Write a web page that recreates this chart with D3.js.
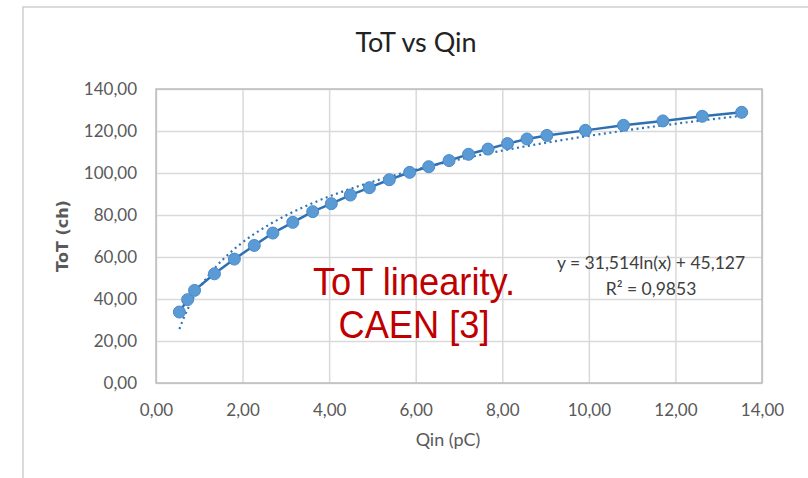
<!DOCTYPE html>
<html>
<head>
<meta charset="utf-8">
<script src="https://cdn.jsdelivr.net/npm/d3@7"></script>
<style>
  body { margin: 0; background: #fff; }
  svg text { font-family: Lato, "Open Sans", sans-serif; }
</style>
</head>
<body>
<div id="chart"></div>
<script>
// values
var qin = [0.54, 0.73, 0.89, 1.35, 1.81, 2.27, 2.70, 3.16, 3.62, 4.05, 4.49, 4.93, 5.39,
           5.86, 6.30, 6.77, 7.22, 7.67, 8.12, 8.57, 9.03, 9.92, 10.80, 11.71, 12.62, 13.53];
var tot = [33.8, 39.7, 44.1, 52.0, 59.0, 65.5, 71.4, 76.5, 81.6, 85.4, 89.5, 93.0, 96.8,
           100.3, 103.0, 105.9, 108.9, 111.4, 114.0, 116.2, 117.9, 120.3, 122.7, 124.8, 127.0, 128.9];
var xTicks = [0, 2, 4, 6, 8, 10, 12, 14],
    yTicks = [0, 20, 40, 60, 80, 100, 120, 140];
// log trendline shown on the chart
var trendA = 31.514, trendB = 45.127;
var eqLines = ["y = 31,514ln(x) + 45,127", "R\u00b2 = 0,9853"];
var noteLines = ["ToT linearity.", "CAEN [3]"];

var W = 808, H = 478,
    margin = { top: 89, right: 46, bottom: 95, left: 156 },
    width = W - margin.left - margin.right,
    height = H - margin.top - margin.bottom;

var fmt = d3.formatLocale({ decimal: ",", thousands: ".", grouping: [3], currency: ["", ""] }).format(".2f");

var svg = d3.select("#chart").append("svg")
    .attr("width", W)
    .attr("height", H);

// outer chart frame
svg.append("rect")
    .attr("x", 23).attr("y", 7)
    .attr("width", W).attr("height", H)
    .attr("fill", "#fff")
    .attr("stroke", "#cfcfcf")
    .attr("stroke-width", 1.5);

svg.append("text")
    .attr("x", 416).attr("y", 52)
    .attr("text-anchor", "middle")
    .attr("font-size", 27)
    .attr("fill", "#222")
    .text("ToT vs Qin");

var g = svg.append("g")
    .attr("transform", "translate(" + margin.left + "," + margin.top + ")");

var x = d3.scaleLinear().domain([0, 14]).range([0, width]);
var y = d3.scaleLinear().domain([0, 140]).range([height, 0]);

var xAxis = g.append("g")
    .attr("transform", "translate(0," + height + ")")
    .call(d3.axisBottom(x).tickValues(xTicks).tickFormat(fmt).tickSize(-height).tickPadding(21));
var yAxis = g.append("g")
    .call(d3.axisLeft(y).tickValues(yTicks).tickFormat(fmt).tickSize(-width).tickPadding(19));

[xAxis, yAxis].forEach(function(a) {
    a.select(".domain").remove();
    a.selectAll(".tick line").attr("stroke", "#d9d9d9").attr("stroke-width", 1.5);
    a.selectAll(".tick text").attr("fill", "#595959").attr("font-size", 17)
        .style("font-family", "Lato, sans-serif");
});

// plot area border
g.append("rect")
    .attr("width", width).attr("height", height)
    .attr("fill", "none")
    .attr("stroke", "#bdbdbd")
    .attr("stroke-width", 1.5);

// axis titles
svg.append("text")
    .attr("x", 448).attr("y", 446)
    .attr("text-anchor", "middle")
    .attr("font-size", 18)
    .attr("fill", "#595959")
    .text("Qin (pC)");

svg.append("text")
    .attr("transform", "translate(68," + (margin.top + height / 2) + ") rotate(-90)")
    .attr("text-anchor", "middle")
    .style("font-family", "'DejaVu Sans', sans-serif")
    .attr("font-weight", "bold")
    .attr("font-size", 16)
    .attr("fill", "#595959")
    .text("ToT (ch)");

// trendline (dotted)
var xMin = d3.min(qin), xMax = d3.max(qin);
var trendPts = d3.range(0, 101).map(function(i) {
    var q = xMin + (xMax - xMin) * i / 100;
    return [q, trendA * Math.log(q) + trendB];
});
g.append("path")
    .datum(trendPts)
    .attr("fill", "none")
    .attr("stroke", "#2e75b6")
    .attr("stroke-width", 2.2)
    .attr("stroke-dasharray", "2,3.5")
    .attr("d", d3.line().x(function(d) { return x(d[0]); }).y(function(d) { return y(d[1]); }));

// data line + markers
var pts = qin.map(function(q, i) { return [q, tot[i]]; });
g.append("path")
    .datum(pts)
    .attr("fill", "none")
    .attr("stroke", "#2e70b2")
    .attr("stroke-width", 2.5)
    .attr("d", d3.line().x(function(d) { return x(d[0]); }).y(function(d) { return y(d[1]); }));

g.selectAll(".pt")
    .data(pts)
    .enter().append("circle")
    .attr("class", "pt")
    .attr("cx", function(d) { return x(d[0]); })
    .attr("cy", function(d) { return y(d[1]); })
    .attr("r", 6)
    .attr("fill", "#5b9bd5")
    .attr("stroke", "#4a89c8")
    .attr("stroke-width", 1);

// trendline equation
svg.selectAll(".eq")
    .data(eqLines)
    .enter().append("text")
    .attr("class", "eq")
    .attr("x", 651)
    .attr("y", function(d, i) { return 269 + i * 26; })
    .attr("text-anchor", "middle")
    .attr("font-size", 17.5)
    .attr("fill", "#404040")
    .text(function(d) { return d; });

// red annotation
svg.selectAll(".note")
    .data(noteLines)
    .enter().append("text")
    .attr("class", "note")
    .attr("transform", function(d, i) { return "translate(414," + (295 + i * 43) + ") scale(0.93,1)"; })
    .attr("text-anchor", "middle")
    .style("font-family", "'Liberation Sans', Arial, sans-serif")
    .attr("font-size", 39)
    .attr("fill", "#c00000")
    .text(function(d) { return d; });
</script>
</body>
</html>
